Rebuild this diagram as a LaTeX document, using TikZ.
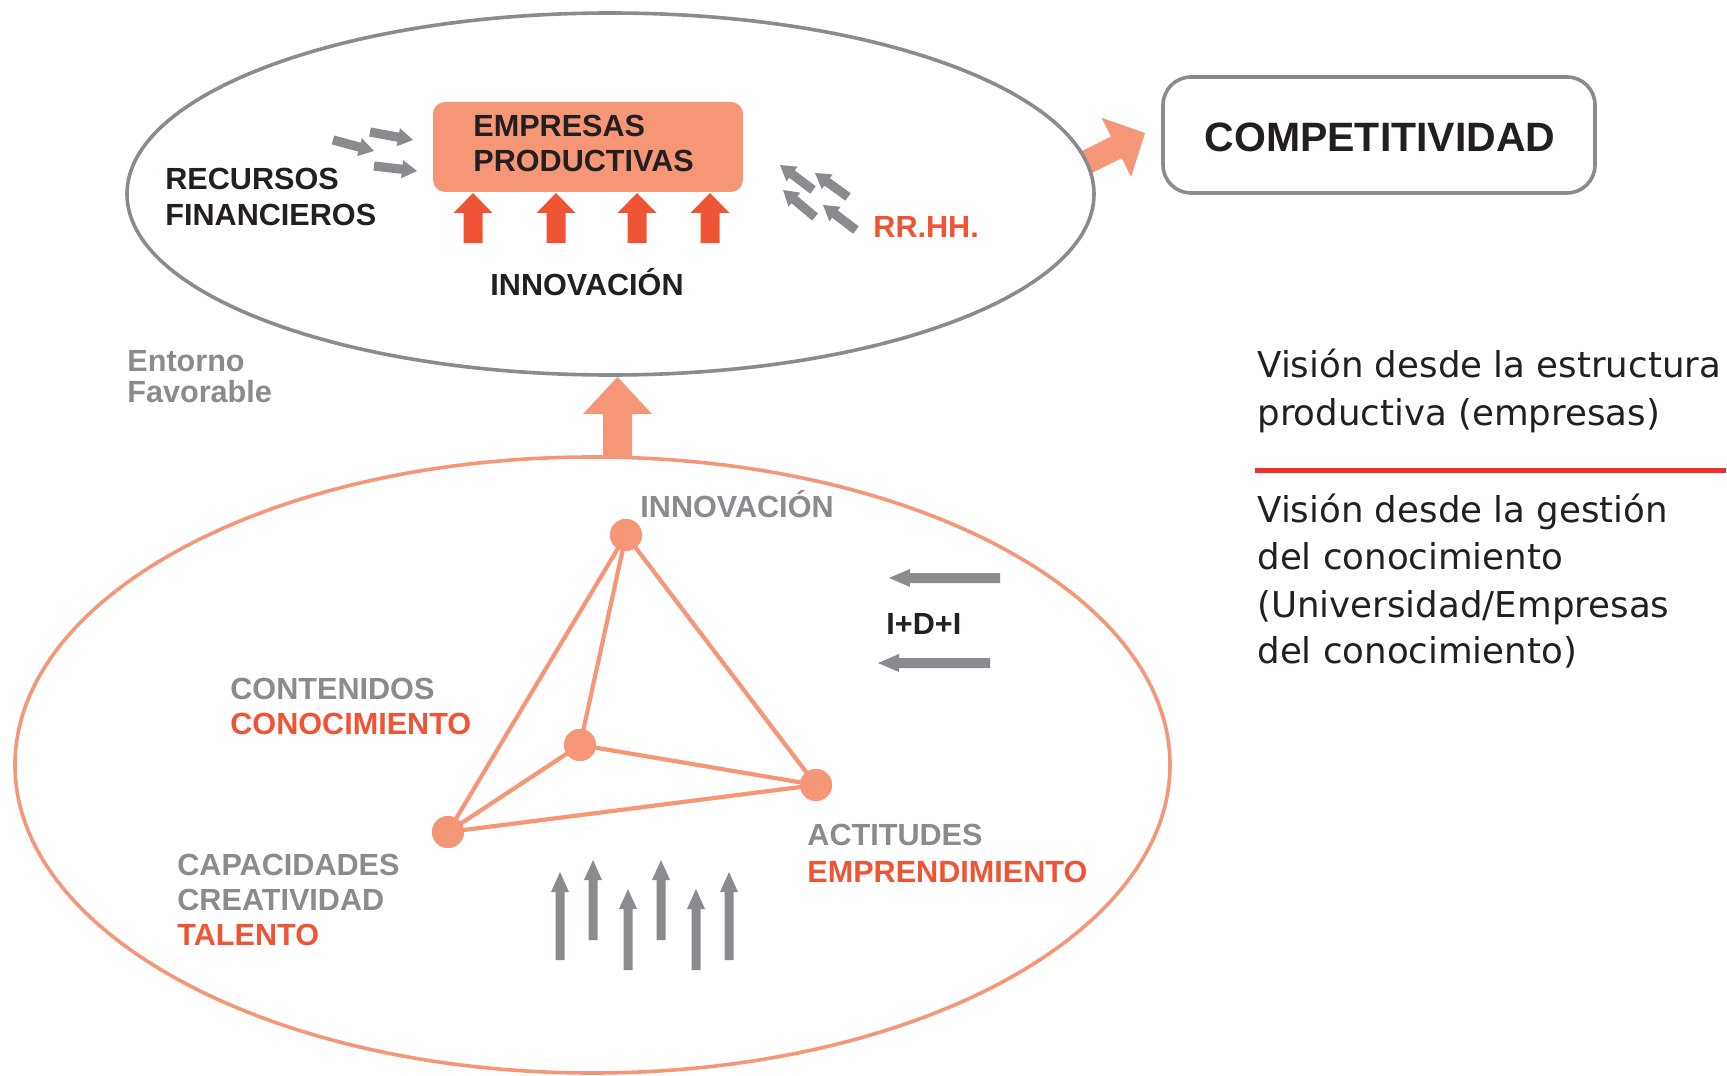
\documentclass[tikz,border=0pt]{standalone}
\usepackage{fontspec}
\setmainfont{Liberation Sans}
\newfontfamily\dejavu{DejaVu Sans}
\usetikzlibrary{shapes.geometric,calc}
\definecolor{cgray}{HTML}{8A8B8F}
\definecolor{csalmon}{HTML}{F59677}
\definecolor{cred}{HTML}{EF5435}
\definecolor{cblack}{HTML}{231F20}
\definecolor{cline}{HTML}{EE2D2D}
% block arrow: #1 start, #2 tip, #3 shaft half width, #4 head half width, #5 head length, #6 style
\newcommand\barrow[6]{%
  \coordinate (#1-h) at ($(#2)!#5!(#1)$);
  \fill[#6] ($(#1)!#3!90:(#2)$) -- ($(#1-h)!#3!90:(#2)$) -- ($(#1-h)!#4!90:(#2)$) -- (#2)
    -- ($(#1-h)!#4!-90:(#2)$) -- ($(#1-h)!#3!-90:(#2)$) -- ($(#1)!#3!-90:(#2)$) -- cycle;
}
\begin{document}
\begin{tikzpicture}[x=0.5pt,y=-0.5pt,
  lbl/.style={anchor=base west, inner sep=0, font=\bfseries\fontsize{15.3}{18}\selectfont},
  blk/.style={lbl, text=cblack},
  gry/.style={lbl, text=cgray},
  rdt/.style={lbl, text=cred},
  vis/.style={anchor=base west, inner sep=0, text=cblack, font=\dejavu\fontsize{17.8}{21}\selectfont},
  vtx/.style={circle, fill=csalmon, minimum size=16pt, inner sep=0},
  tedge/.style={draw=csalmon, line width=2.1pt},
  garrow/.style={fill=cgray},
  rarrow/.style={fill=cred},
  sarrow/.style={fill=csalmon}]
\useasboundingbox (0,0) rectangle (1727,1075);

% ---- block arrows behind ellipses
\coordinate (cs) at (1085,163); \coordinate (ct) at (1145,133);
\barrow{cs}{ct}{6pt}{16.5pt}{16pt}{sarrow}
\coordinate (us) at (617.5,457); \coordinate (ut) at (617.5,377);
\barrow{us}{ut}{7.25pt}{17.25pt}{18.5pt}{sarrow}

% ---- ellipses
\node[ellipse, draw=cgray, line width=1.8pt, minimum width=483.5pt, minimum height=181pt, inner sep=0] (topell) at (610.5,194) {};
\node[ellipse, draw=csalmon, line width=1.8pt, minimum width=577.5pt, minimum height=308pt, inner sep=0] (botell) at (592.5,765) {};

% ---- competitividad
\node[draw=cgray, line width=1.8pt, rounded corners=14pt, minimum width=216pt, minimum height=58pt, inner sep=0] (compbox) at (1379,135) {};
\node[anchor=base, inner sep=0, text=cblack, font=\bfseries\fontsize{20.5}{24}\selectfont] (comp) at (1380,152) {COMPETITIVIDAD};

% ---- empresas box
\node[fill=csalmon, rounded corners=6pt, minimum width=155pt, minimum height=45pt, inner sep=0] (empbox) at (588,147) {};
\node[blk] (emp1) at (473,137) {EMPRESAS};
\node[blk] (emp2) at (473,172) {PRODUCTIVAS};

% red arrows under the box
\foreach \x [count=\i] in {473,556,637,710} {
  \coordinate (rs\i) at (\x,243); \coordinate (rt\i) at (\x,193);
  \barrow{rs\i}{rt\i}{4.75pt}{9.75pt}{10pt}{rarrow}
}
\node[blk] (innotop) at (490,295) {INNOVACIÓN};

% recursos financieros
\node[blk] (rec1) at (165,190) {RECURSOS};
\node[blk] (rec2) at (165,226) {FINANCIEROS};
\coordinate (fa1) at (333,140); \coordinate (fb1) at (374,151);
\coordinate (fa2) at (370,132); \coordinate (fb2) at (413,140);
\coordinate (fa3) at (374,166); \coordinate (fb3) at (417,171);
\foreach \i in {1,2,3} { \barrow{fa\i}{fb\i}{2.3pt}{4.6pt}{7.5pt}{garrow} }

% rr.hh.
\node[rdt] (rrhh) at (873,237) {RR.HH.};
\coordinate (ha1) at (813,190); \coordinate (hb1) at (780,165);
\coordinate (ha2) at (848,197); \coordinate (hb2) at (815,173);
\coordinate (ha3) at (815,217); \coordinate (hb3) at (783,190);
\coordinate (ha4) at (856,230); \coordinate (hb4) at (823,205);
\foreach \i in {1,2,3,4} { \barrow{ha\i}{hb\i}{2.3pt}{4.6pt}{7.5pt}{garrow} }

% entorno favorable
\node[gry] (ent1) at (127,371) {Entorno};
\node[gry] (ent2) at (127,402) {Favorable};

% ---- triangle
\node[vtx] (v1) at (626,535) {};
\node[vtx] (v2) at (580,745) {};
\node[vtx] (v3) at (816,785) {};
\node[vtx] (v4) at (448,832) {};
\draw[tedge] (v1.center) -- (v4.center) (v1.center) -- (v2.center) (v1.center) -- (v3.center)
  (v2.center) -- (v4.center) (v2.center) -- (v3.center) (v4.center) -- (v3.center);
\node[vtx] at (v1) {};
\node[vtx] at (v2) {};
\node[vtx] at (v3) {};
\node[vtx] at (v4) {};

\node[gry] (innobot) at (640,517) {INNOVACIÓN};
\node[gry] (cont1) at (230,699) {CONTENIDOS};
\node[rdt] (cont2) at (230,734) {CONOCIMIENTO};
\node[gry] (cap1) at (177,875) {CAPACIDADES};
\node[gry] (cap2) at (177,910) {CREATIVIDAD};
\node[rdt] (cap3) at (177,945) {TALENTO};
\node[gry] (act1) at (807,845) {ACTITUDES};
\node[rdt] (act2) at (807,882) {EMPRENDIMIENTO};

% I+D+I
\node[blk] (idi) at (886,634) {I+D+I};
\coordinate (ia1) at (1000,578); \coordinate (ib1) at (889,578);
\coordinate (ia2) at (990,663); \coordinate (ib2) at (878,663);
\foreach \i in {1,2} { \barrow{ia\i}{ib\i}{2.5pt}{4.5pt}{10.5pt}{garrow} }

% vertical gray arrows
\foreach \x/\t/\b [count=\i] in {560/872/960, 593/860/940, 628/889/970, 661/860/940, 696/889/970, 729/872/960} {
  \coordinate (va\i) at (\x,\b); \coordinate (vb\i) at (\x,\t);
  \barrow{va\i}{vb\i}{2.25pt}{4.5pt}{10pt}{garrow}
}

% ---- right text
\node[vis] (vt1) at (1257,377) {Visión desde la estructura};
\node[vis] (vt2) at (1257,425) {productiva (empresas)};
\coordinate (la) at (1255,470); \coordinate (lb) at (1726,470);
\draw[cline, line width=2.5pt] (la) -- (lb);
\node[vis] (vb1) at (1257,522) {Visión desde la gestión};
\node[vis] (vb2) at (1257,569) {del conocimiento};
\node[vis] (vb3) at (1257,617) {(Universidad/Empresas};
\node[vis] (vb4) at (1257,663) {del conocimiento)};
\end{tikzpicture}
\end{document}
